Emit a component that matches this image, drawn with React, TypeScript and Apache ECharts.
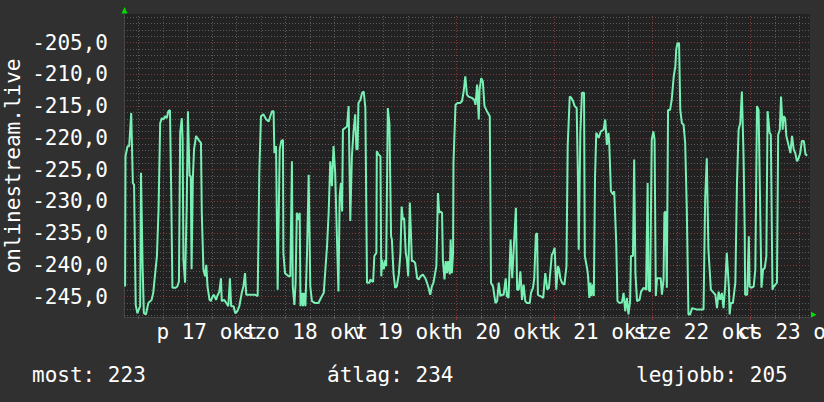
import React, { useEffect, useRef } from "react";
import * as echarts from "echarts";

// x = hours since midnight of 16 Oct, y = measured value
const segmentFri: number[][] = [
  [14.7,-243.4],[14.8,-222.9],[15.3,-221.3],[15.7,-221.3],[16.2,-216.1],[16.6,-227.1],[16.9,-227.4],[17.3,-246.3],[17.7,-247.6],[18.4,-246.5],[18.6,-225.5],[19.0,-240.5],[19.3,-247.6],[19.8,-247.8],[20.4,-246.0],[21.2,-245.5],[21.6,-244.4],[22.0,-241.8],[22.5,-238.6],[22.9,-231.3],[23.3,-217.7],[23.7,-216.9],[24.1,-217.1],[24.5,-216.6],[24.9,-216.9],[25.3,-215.8],[25.7,-215.6],[26.0,-228.4],[26.3,-243.6],[27.0,-243.6],[27.5,-243.4],[27.9,-242.6],[28.2,-219.2],[28.6,-216.9],[28.8,-220.3],[29.0,-239.2],[29.4,-242.8],[29.8,-230.8],[30.1,-215.8],[30.5,-226.0],[30.8,-226.0],[31.0,-240.7],[31.3,-226.6],[31.6,-221.8],[32.1,-219.7],[32.7,-220.3],[33.3,-220.8],[33.5,-231.8],[33.9,-240.7],[34.3,-241.8],[34.6,-240.0],[34.9,-243.4],[35.4,-245.5],[35.7,-245.7],[36.2,-244.9],[36.5,-244.7],[37.0,-245.5],[37.3,-244.9],[37.8,-244.2],[38.2,-242.1],[38.4,-245.7],[39.0,-245.5],[39.5,-246.0],[40.0,-246.5],[40.4,-242.1],[40.7,-246.5],[41.3,-246.5],[41.7,-247.6],[42.2,-247.3],[42.7,-246.5],[43.3,-244.4],[43.7,-243.4],[44.1,-241.3],[44.4,-244.7],[44.9,-244.7],[45.8,-244.7],[46.6,-244.7],[47.2,-244.9],[47.6,-225.5],[48.0,-216.6],[48.6,-216.3],[49.3,-217.1],[49.9,-217.4],[50.3,-216.6],[50.7,-215.8],[51.1,-215.8],[51.3,-222.4],[51.7,-221.3],[52.1,-243.9],[52.6,-221.8],[53.0,-220.5],[53.4,-220.3],[53.5,-238.1],[53.9,-241.3],[54.8,-241.8],[55.2,-241.8],[55.6,-223.7],[55.8,-243.4],[56.2,-246.3],[56.5,-242.8],[56.8,-231.8],[57.2,-232.9],[57.5,-231.8],[57.7,-246.5],[58.0,-244.4],[58.3,-246.5],[58.5,-244.4],[58.9,-246.5],[59.3,-238.1],[59.7,-225.8],[60.1,-243.4],[60.5,-245.7],[61.3,-246.0],[62.1,-246.0],[62.7,-245.2],[63.4,-244.4],[63.8,-240.7],[64.2,-237.1],[64.6,-231.8],[65.0,-223.7],[65.4,-227.6],[65.8,-221.3],[66.2,-225.5],[66.6,-235.0],[67.0,-244.2],[67.3,-229.2],[67.6,-227.1],[67.9,-231.6],[68.1,-218.7],[68.7,-218.4],[69.1,-218.2],[69.5,-215.0],[69.9,-233.1],[70.3,-222.9],[70.7,-219.0],[71.1,-216.3],[71.4,-221.8],[71.7,-221.8],[71.9,-214.5],[72.4,-214.0],[72.8,-212.9],[73.2,-212.7],[73.6,-215.3],[74.0,-242.8],[74.6,-242.8]
];

const segmentMon: number[][] = [
  [74.8,-242.3],[75.5,-242.7],[75.8,-238.6],[76.3,-238.1],[76.4,-222.1],[76.8,-222.6],[77.3,-222.9],[77.5,-241.8],[77.7,-239.2],[78.1,-240.7],[78.5,-239.2],[78.7,-240.2],[79.1,-215.3],[79.5,-217.7],[79.9,-235.5],[80.1,-236.0],[80.5,-241.3],[80.9,-243.6],[81.3,-243.4],[81.8,-241.5],[82.2,-238.1],[82.5,-230.8],[82.8,-232.9],[83.1,-232.6],[83.5,-238.1],[83.8,-239.2],[84.1,-241.8],[84.5,-230.2],[84.8,-235.5],[85.0,-239.4],[85.4,-239.4],[85.8,-239.7],[86.3,-242.1],[86.7,-242.3],[87.1,-241.8],[87.7,-241.5],[88.3,-242.1],[88.7,-242.8],[89.1,-243.6],[89.5,-244.7],[89.9,-243.4],[90.3,-242.8],[91.0,-240.2],[91.4,-228.7],[91.7,-231.8],[92.0,-231.6],[92.4,-231.8],[92.6,-239.2],[93.0,-242.3],[93.3,-239.4],[93.6,-241.3],[93.9,-239.4],[94.3,-241.5],[94.5,-236.0],[94.8,-241.3],[95.1,-238.1],[95.2,-223.9],[95.7,-214.8],[96.2,-214.5],[96.9,-214.5],[97.3,-214.2],[97.7,-212.7],[98.1,-210.3],[98.5,-213.2],[98.9,-213.5],[99.7,-213.7],[100.3,-214.0],[100.6,-214.8],[101.0,-211.6],[101.4,-217.1],[101.6,-212.4],[102.0,-210.6],[102.4,-211.1],[102.8,-215.0],[103.4,-215.8],[104.1,-216.6],[104.4,-242.8],[104.9,-243.4],[105.5,-246.0],[105.9,-245.7],[106.3,-242.8],[106.7,-244.9],[107.1,-244.7],[107.5,-244.7],[108.0,-242.1],[108.3,-244.9],[108.7,-245.2],[109.2,-236.0],[109.6,-242.1],[110.0,-237.1],[110.5,-231.0],[110.8,-243.9],[111.2,-243.9],[111.6,-241.0],[112.0,-245.5],[112.4,-243.1],[112.8,-245.7],[113.2,-246.0],[113.9,-246.0],[114.2,-244.4],[114.7,-243.6],[115.0,-242.1],[115.4,-235.2],[115.7,-235.0],[115.9,-244.7],[116.5,-244.9],[117.2,-245.2],[117.7,-241.3],[118.2,-243.9],[118.6,-243.6],[119.3,-238.4],[119.6,-238.1],[120.0,-237.3],[120.4,-243.9],[120.8,-240.2],[121.1,-240.7],[121.4,-242.1],[121.8,-242.8],[122.4,-243.1],[122.9,-240.2],[123.2,-221.3],[123.7,-213.5],[124.1,-213.7],[124.5,-214.2],[124.9,-215.0],[125.4,-215.3],[125.7,-226.0],[125.9,-237.6],[126.3,-219.2],[126.7,-212.9],[127.2,-212.9],[127.4,-238.6],[128.0,-240.7],[128.2,-241.8],[128.5,-245.2],[128.8,-242.8],[129.0,-244.9],[129.4,-243.1],[129.6,-244.9]
];

const segmentWed: number[][] = [
  [129.9,-226.3],[130.2,-219.2],[130.8,-220.0],[131.3,-219.0],[132.0,-218.7],[132.4,-217.1],[132.8,-221.1],[133.2,-219.2],[133.4,-221.1],[133.8,-228.4],[134.3,-228.9],[134.6,-228.4],[135.1,-236.5],[135.4,-245.7],[135.9,-246.0],[136.5,-245.9],[136.9,-244.4],[137.3,-247.3],[137.7,-245.2],[138.1,-247.8],[138.5,-245.7],[138.7,-238.6],[139.2,-238.6],[139.5,-223.4],[139.8,-241.3],[140.2,-245.7],[140.8,-245.5],[141.2,-244.2],[141.8,-243.6],[142.4,-243.9],[142.8,-227.1],[143.0,-243.9],[143.4,-244.2],[143.8,-220.3],[144.2,-219.0],[144.5,-220.3],[144.8,-244.9],[145.1,-242.1],[145.5,-242.1],[146.0,-242.1],[146.3,-244.7],[146.7,-242.3],[146.9,-231.8],[147.2,-231.6],[147.5,-243.6],[147.8,-215.6],[148.3,-215.6],[148.7,-214.0],[149.2,-210.3],[149.6,-208.7],[149.8,-206.1],[150.1,-205.1],[150.5,-205.1],[150.8,-215.6],[151.2,-217.7],[151.6,-217.9],[152.0,-220.8],[152.4,-231.3],[152.8,-247.8],[153.2,-247.8],[153.7,-246.8],[154.7,-247.0],[156.5,-247.0],[156.9,-229.5],[157.3,-223.2],[157.7,-237.6],[158.3,-243.9],[159.0,-244.4],[159.4,-244.7],[159.8,-246.8],[160.2,-244.2],[160.6,-245.5],[161.0,-244.4],[161.4,-246.8],[161.8,-243.4],[162.2,-238.1],[162.7,-243.4],[162.9,-247.8],[163.2,-246.0],[163.7,-246.0],[164.3,-242.8],[164.7,-227.1],[165.1,-218.7],[165.5,-217.7],[165.9,-212.7],[166.3,-222.6],[166.6,-235.0],[166.7,-244.7],[167.2,-244.7],[167.6,-235.5],[167.8,-243.4],[168.2,-243.6],[168.8,-243.4],[169.2,-240.7],[169.6,-215.0],[170.0,-215.6],[170.3,-227.6],[170.7,-243.6],[171.1,-240.7],[171.5,-240.5],[171.9,-238.6],[172.2,-215.8],[172.7,-219.2],[173.0,-219.5],[173.4,-243.9],[173.7,-243.4],[174.1,-243.1],[174.5,-242.8],[174.8,-219.5],[175.2,-218.7],[175.5,-213.5],[175.9,-218.7],[176.1,-216.6],[176.5,-216.9],[176.8,-219.7],[177.4,-221.3],[177.8,-222.4],[178.2,-219.7],[178.6,-221.8],[179.0,-222.4],[179.4,-223.7],[179.8,-223.2],[180.2,-222.4],[180.6,-220.5],[181.1,-220.5],[181.5,-222.6],[181.9,-222.8]
];

const dayLabels = ["p 17 okt", "szo 18 okt", "v 19 okt", "h 20 okt", "k 21 okt", "sze 22 okt", "cs 23 okt"];
const dayLabelHours = [36, 60, 84, 108, 132, 156, 180];
const midnightHours = [24, 48, 72, 96, 120, 144, 168];
const quarterDayHours = [18, 30, 36, 42, 54, 60, 66, 78, 84, 90, 102, 108, 114, 126, 132, 138, 150, 156, 162, 174, 180];
const yLabelValues = [-245, -240, -235, -230, -225, -220, -215, -210, -205];
const statNames = ["most", "átlag", "legjobb"];
const statValues = ["223", "234", "205"];
const axisTitle = "onlinestream.live";

const X_MIN = 14.43;
const X_MAX = 182.6;
const Y_MIN = -248.2;
const Y_MAX = -200.5;

const FONT = "'DejaVu Sans Mono', monospace";
const MINOR = "#5a5a5a";
const MAJOR = "#843838";

export default function App() {
  const ref = useRef<HTMLDivElement>(null);

  useEffect(() => {
    if (!ref.current) return;
    const chart = echarts.init(ref.current, undefined, { renderer: "svg" });

    const data = [...segmentFri, ...segmentMon, ...segmentWed];

    const minorV = quarterDayHours.map((h) => ({ xAxis: h }));
    const majorV = midnightHours.map((h) => ({ xAxis: h }));
    const minorH: any[] = [];
    const majorH: any[] = [];
    for (let v = -248; v <= -201; v += 1) {
      if (v % 5 === 0) majorH.push({ yAxis: v });
      else minorH.push({ yAxis: v });
    }

    const gridSeries = (name: string, lines: any[], color: string) => ({
      type: "line",
      name,
      data: [],
      z: 1,
      silent: true,
      markLine: {
        silent: true,
        symbol: ["none", "none"],
        label: { show: false },
        emphasis: { disabled: true },
        lineStyle: { color, width: 1, type: [1, 2] },
        data: lines,
      },
    });

    // labels split over two axes so neighbouring (overlapping) labels are never dropped
    const evenLabelHours = dayLabelHours.filter((_, i) => i % 2 === 0);
    const oddLabelHours = dayLabelHours.filter((_, i) => i % 2 === 1);
    const labelStyle = {
      showMinLabel: true,
      showMaxLabel: true,
      hideOverlap: false,
      formatter: (v: number) => dayLabels[Math.round((v - 36) / 24)] ?? "",
      color: "#ffffff",
      fontFamily: FONT,
      fontSize: 21,
      margin: 4,
      padding: [0, 10, 0, 0],
    };

    const statX = [32, 327, 636];

    chart.setOption({
      animation: false,
      backgroundColor: "#303030",
      grid: {
        left: 124,
        top: 14,
        width: 686,
        height: 303,
        show: true,
        backgroundColor: "#222222",
        borderWidth: 0,
        containLabel: false,
        outerBoundsMode: "none",
      },
      xAxis: [
        {
          type: "value",
          min: X_MIN,
          max: X_MAX,
          position: "bottom",
          axisLine: { show: true, lineStyle: { color: "#444444", width: 1 } },
          axisTick: {
            show: true,
            customValues: midnightHours,
            length: 3,
            lineStyle: { color: MAJOR, width: 1 },
          },
          splitLine: { show: false },
          axisLabel: { ...labelStyle, customValues: evenLabelHours },
        },
        {
          type: "value",
          min: X_MIN,
          max: X_MAX,
          position: "bottom",
          offset: 0,
          axisLine: { show: false },
          axisTick: {
            show: true,
            customValues: quarterDayHours,
            length: 2,
            lineStyle: { color: MINOR, width: 1 },
          },
          splitLine: { show: false },
          axisLabel: { ...labelStyle, customValues: oddLabelHours },
        },
      ],
      yAxis: {
        type: "value",
        min: Y_MIN,
        max: Y_MAX,
        axisLine: { show: true, lineStyle: { color: "#444444", width: 1 } },
        axisTick: { show: false },
        splitLine: { show: false },
        axisLabel: {
          customValues: yLabelValues,
          formatter: (v: number) => v.toFixed(1).replace(".", ","),
          color: "#ffffff",
          fontFamily: FONT,
          fontSize: 21,
          margin: 16,
        },
      },
      series: [
        gridSeries("minorV", minorV, MINOR),
        gridSeries("minorH", minorH, MINOR),
        gridSeries("majorV", majorV, MAJOR),
        gridSeries("majorH", majorH, MAJOR),
        {
          type: "line",
          name: axisTitle,
          data,
          z: 5,
          showSymbol: false,
          symbol: "none",
          lineStyle: { color: "#78f0b4", width: 2 },
          itemStyle: { color: "#78f0b4" },
          emphasis: { disabled: true },
        },
      ],
      graphic: [
        {
          type: "text",
          x: 13,
          y: 166,
          rotation: Math.PI / 2,
          style: {
            text: axisTitle,
            fill: "#ffffff",
            font: `21px ${FONT}`,
            align: "center",
            verticalAlign: "middle",
          },
        },
        ...statNames.map((n, i) => ({
          type: "text",
          x: statX[i],
          y: 375,
          style: {
            text: `${n}: ${statValues[i]}`,
            fill: "#ffffff",
            font: `21px ${FONT}`,
            align: "left",
            verticalAlign: "middle",
          },
        })),
        {
          type: "polygon",
          shape: { points: [[124.5, 7], [121.5, 13.5], [127.5, 13.5]] },
          style: { fill: "#00dd00" },
        },
        {
          type: "polygon",
          shape: { points: [[816.5, 314.7], [811, 311.7], [811, 317.7]] },
          style: { fill: "#00dd00" },
        },
      ],
    });

    return () => chart.dispose();
  }, []);

  return (
    <div
      ref={ref}
      style={{ position: "fixed", left: 0, top: 0, width: 824, height: 402, background: "#303030" }}
    />
  );
}
